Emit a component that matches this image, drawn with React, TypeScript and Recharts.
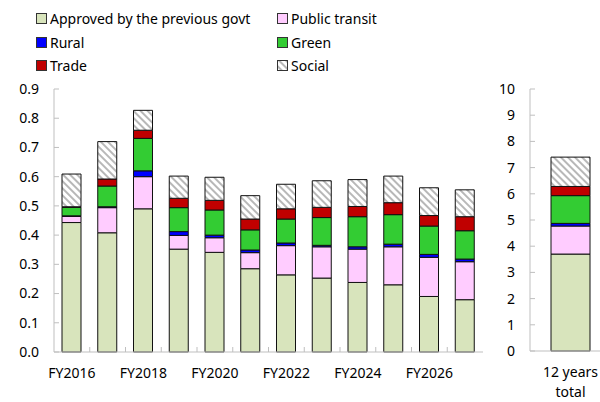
import React from "react";
import { BarChart, Bar, XAxis, YAxis } from "recharts";

const categories = ["FY2016","FY2017","FY2018","FY2019","FY2020","FY2021","FY2022","FY2023","FY2024","FY2025","FY2026","FY2027"];
const approved = [0.443, 0.408, 0.490, 0.352, 0.341, 0.285, 0.264, 0.253, 0.238, 0.230, 0.190, 0.179];
const transit = [0.021, 0.086, 0.110, 0.047, 0.050, 0.055, 0.100, 0.107, 0.114, 0.130, 0.134, 0.130];
const rural = [0.002, 0.003, 0.020, 0.013, 0.009, 0.009, 0.009, 0.005, 0.008, 0.009, 0.010, 0.009];
const green = [0.029, 0.071, 0.111, 0.082, 0.086, 0.069, 0.082, 0.095, 0.103, 0.101, 0.097, 0.097];
const trade = [0.002, 0.024, 0.028, 0.032, 0.033, 0.037, 0.035, 0.035, 0.035, 0.041, 0.036, 0.048];
const social = [0.112, 0.128, 0.068, 0.076, 0.079, 0.080, 0.084, 0.091, 0.092, 0.091, 0.095, 0.092];

const totalCategory = ["12 years total"];
const totalApproved = [3.70];
const totalTransit = [1.07];
const totalRural = [0.10];
const totalGreen = [1.06];
const totalTrade = [0.35];
const totalSocial = [1.12];

const leftTicks = [0, 0.1, 0.2, 0.3, 0.4, 0.5, 0.6, 0.7, 0.8, 0.9];
const rightTicks = [0, 1, 2, 3, 4, 5, 6, 7, 8, 9, 10];

const seriesNames = ["Approved by the previous govt", "Public transit", "Rural", "Green", "Trade", "Social"];
const seriesKeys = ["approved", "transit", "rural", "green", "trade", "social"];
const seriesFills = ["#D8E4BC", "#FFCCFF", "#0000FF", "#33CC33", "#C00000", "url(#hatch)"];

const leftData = categories.map((c, i) => ({
  cat: c, approved: approved[i], transit: transit[i], rural: rural[i],
  green: green[i], trade: trade[i], social: social[i],
}));
const rightData = totalCategory.map((c, i) => ({
  cat: c, approved: totalApproved[i], transit: totalTransit[i], rural: totalRural[i],
  green: totalGreen[i], trade: totalTrade[i], social: totalSocial[i],
}));

const FONT = "'Noto Sans', 'Open Sans', sans-serif";
const AXIS = "#BFBFBF";
const TEXT = "#000";

const L_W = 500, L_H = 402;
const X_H = 30;
const L_MARGIN = { top: 89, right: 17, bottom: 50 - X_H, left: 0 };
const L_YW = 54;
const L_BAND = (L_W - L_MARGIN.right - L_MARGIN.left - L_YW) / categories.length;

const R_LEFT = 480, R_W = 150;
const R_MARGIN = { top: 89, right: 19, bottom: 51 - X_H, left: 0 };
const R_YW = 50;

const HatchDefs = ({ id }: { id: string }) => (
  <defs>
    <pattern id={id} patternUnits="userSpaceOnUse" width="5" height="5" patternTransform="rotate(-45)">
      <rect width="5" height="5" fill="#fff" />
      <line x1="1" y1="0" x2="1" y2="5" stroke="#A6A6A6" strokeWidth="1.6" />
    </pattern>
  </defs>
);

const YTick = (props: any) => {
  const { x, y, payload, fmt } = props;
  return (
    <g>
      <line x1={x + 15} x2={x + 20} y1={y} y2={y} stroke={AXIS} />
      <text x={x} y={y} dy="0.35em" textAnchor="end" fontFamily={FONT} fontSize={14} fill={TEXT}>
        {fmt(payload.value)}
      </text>
    </g>
  );
};

const LeftXTick = (props: any) => {
  const { x, y, payload, index } = props;
  return (
    <g>
      {index < categories.length - 1 && (
        <line x1={x + L_BAND / 2} x2={x + L_BAND / 2} y1={y} y2={y - 5} stroke={AXIS} />
      )}
      {index % 2 === 0 && (
        <text x={x} y={y + 26} textAnchor="middle" fontFamily={FONT} fontSize={14} fill={TEXT}>
          {payload.value}
        </text>
      )}
    </g>
  );
};

const RightXTick = (props: any) => {
  const { x, y, payload } = props;
  const words = String(payload.value).split(" ");
  const line1 = words.slice(0, 2).join(" ");
  const line2 = words.slice(2).join(" ");
  return (
    <g>
      <text x={x} y={y + 26} textAnchor="middle" fontFamily={FONT} fontSize={14} fill={TEXT}>{line1}</text>
      <text x={x} y={y + 46} textAnchor="middle" fontFamily={FONT} fontSize={14} fill={TEXT}>{line2}</text>
    </g>
  );
};

const Swatch = ({ i }: { i: number }) => (
  <svg width={11} height={11} style={{ display: "block" }}>
    <HatchDefs id={"hatchLegend" + i} />
    <rect x={0.5} y={0.5} width={10} height={10}
      fill={seriesKeys[i] === "social" ? "url(#hatchLegend" + i + ")" : seriesFills[i]}
      stroke="#333" strokeWidth={1} />
  </svg>
);

const legendLayout = [
  { i: 0, x: 36, y: 18 }, { i: 1, x: 277, y: 18 },
  { i: 2, x: 36, y: 42 }, { i: 3, x: 277, y: 42 },
  { i: 4, x: 36, y: 65 }, { i: 5, x: 277, y: 65 },
];

const renderBars = () =>
  seriesKeys.map((k, i) => (
    <Bar key={k} dataKey={k} name={seriesNames[i]} stackId="s" fill={seriesFills[i]}
      stroke="#111" strokeWidth={1} isAnimationActive={false} />
  ));

export default function App() {
  return (
    <div style={{ position: "fixed", left: 0, top: 0, width: 600, height: 402, overflow: "hidden", background: "#fff" }}>
      {legendLayout.map(({ i, x, y }) => (
        <div key={i} style={{ position: "absolute", left: x, top: y - 10, height: 20, display: "flex", alignItems: "center",
          fontFamily: FONT, fontSize: 14, color: TEXT, whiteSpace: "nowrap" }}>
          <Swatch i={i} />
          <span style={{ marginLeft: 3 }}>{seriesNames[i]}</span>
        </div>
      ))}

      <div style={{ position: "absolute", left: 0, top: 0 }}>
        <BarChart width={L_W} height={L_H} data={leftData} margin={L_MARGIN} barSize={19}>
          <HatchDefs id="hatch" />
          <XAxis dataKey="cat" interval={0} tickLine={false} tickSize={0} tickMargin={0} height={X_H}
            axisLine={{ stroke: AXIS }} tick={(p: any) => <LeftXTick {...p} />} />
          <XAxis xAxisId="top" orientation="top" dataKey="cat" tick={false} tickLine={false} height={0}
            axisLine={{ stroke: AXIS }} />
          <YAxis domain={[0, 0.9]} ticks={leftTicks} width={L_YW} interval={0} tickLine={false}
            tickSize={0} tickMargin={15} axisLine={{ stroke: AXIS }}
            tick={(p: any) => <YTick {...p} fmt={(v: number) => v.toFixed(1)} />} />
          <YAxis yAxisId="right" orientation="right" domain={[0, 0.9]} tick={false} tickLine={false}
            width={0} axisLine={{ stroke: AXIS }} />
          {renderBars()}
        </BarChart>
      </div>

      <div style={{ position: "absolute", left: R_LEFT, top: 0 }}>
        <BarChart width={R_W} height={L_H} data={rightData} margin={R_MARGIN} barSize={39}>
          <HatchDefs id="hatch" />
          <XAxis dataKey="cat" interval={0} tickLine={false} tickSize={0} tickMargin={0} height={X_H}
            axisLine={{ stroke: AXIS }} tick={(p: any) => <RightXTick {...p} />} />
          <XAxis xAxisId="top" orientation="top" dataKey="cat" tick={false} tickLine={false} height={0}
            axisLine={{ stroke: AXIS }} />
          <YAxis domain={[0, 10]} ticks={rightTicks} width={R_YW} interval={0} tickLine={false}
            tickSize={0} tickMargin={15} axisLine={{ stroke: AXIS }}
            tick={(p: any) => <YTick {...p} fmt={(v: number) => String(v)} />} />
          {renderBars()}
        </BarChart>
      </div>
    </div>
  );
}
